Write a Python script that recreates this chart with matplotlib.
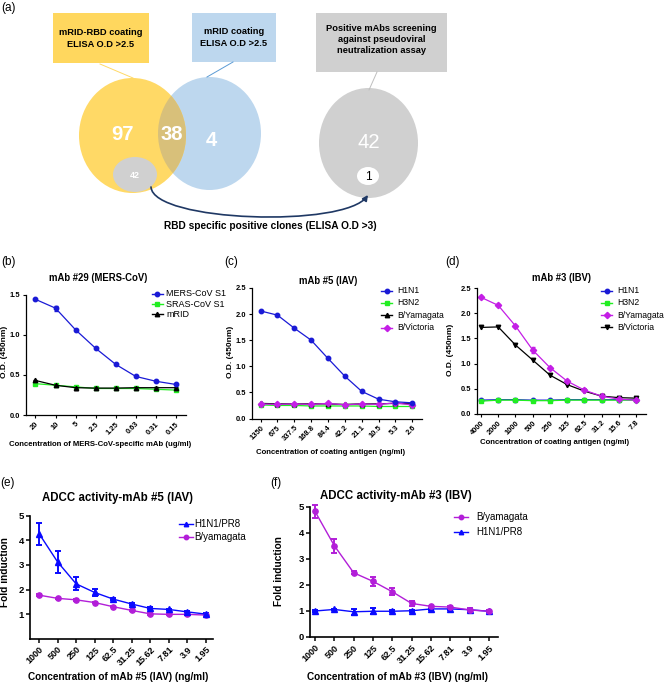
import numpy as np
import matplotlib
matplotlib.use('Agg')
import matplotlib.pyplot as plt
import matplotlib.font_manager as fm
from matplotlib.patches import Rectangle, Ellipse, FancyArrowPatch
from matplotlib.path import Path

# ---- data -------------------------------------------------------------
b_conc = ['20', '10', '5', '2.5', '1.25', '0.63', '0.31', '0.15']
b_mers = [1.44, 1.33, 1.06, 0.83, 0.63, 0.48, 0.42, 0.38]
b_mers_err = [0.01, 0.03, 0.01, 0.01, 0.01, 0.01, 0.01, 0.01]
b_sras = [0.39, 0.37, 0.35, 0.33, 0.33, 0.33, 0.32, 0.31]
b_mrid = [0.43, 0.37, 0.34, 0.335, 0.335, 0.34, 0.34, 0.34]
b_mrid_err = [0.01, 0.01, 0.025, 0.01, 0.01, 0.01, 0.01, 0.01]

c_conc = ['1350', '675', '337.5', '168.8', '84.4', '42.2', '21.1', '10.5', '5.3', '2.6']
c_h1n1 = [2.06, 1.98, 1.73, 1.50, 1.15, 0.81, 0.52, 0.37, 0.32, 0.30]
c_h3n2 = [0.26, 0.25, 0.25, 0.24, 0.24, 0.24, 0.24, 0.23, 0.23, 0.23]
c_byam = [0.29, 0.28, 0.28, 0.28, 0.28, 0.27, 0.28, 0.28, 0.29, 0.28]
c_bvic = [0.28, 0.27, 0.28, 0.27, 0.29, 0.26, 0.28, 0.27, 0.30, 0.26]

d_conc = ['4000', '2000', '1000', '500', '250', '125', '62.5', '31.2', '15.6', '7.8']
d_h1n1 = [0.27, 0.28, 0.28, 0.27, 0.27, 0.28, 0.28, 0.28, 0.28, 0.28]
d_h3n2 = [0.25, 0.27, 0.27, 0.26, 0.26, 0.27, 0.27, 0.27, 0.27, 0.27]
d_byam = [2.32, 2.16, 1.75, 1.27, 0.92, 0.65, 0.47, 0.35, 0.29, 0.27]
d_byam_err = [0.02, 0.02, 0.02, 0.05, 0.02, 0.02, 0.02, 0.02, 0.02, 0.02]
d_bvic = [1.72, 1.73, 1.37, 1.07, 0.77, 0.58, 0.45, 0.35, 0.32, 0.31]

ef_conc = ['1000', '500', '250', '125', '62.5', '31.25', '15.62', '7.81', '3.9', '1.95']
e_h1n1 = [4.27, 3.12, 2.23, 1.88, 1.61, 1.41, 1.23, 1.19, 1.09, 1.00]
e_h1n1_err = [0.45, 0.43, 0.26, 0.13, 0.05, 0.04, 0.04, 0.03, 0.03, 0.03]
e_byam = [1.77, 1.64, 1.58, 1.47, 1.30, 1.15, 1.01, 0.99, 0.99, 0.96]
e_byam_err = [0.03] * 10
f_byam = [4.83, 3.51, 2.47, 2.14, 1.74, 1.29, 1.18, 1.15, 1.04, 0.99]
f_byam_err = [0.25, 0.27, 0.05, 0.17, 0.13, 0.11, 0.03, 0.03, 0.08, 0.03]
f_h1n1 = [1.00, 1.06, 0.97, 0.99, 0.99, 1.01, 1.08, 1.08, 1.05, 0.99]
f_h1n1_err = [0.03, 0.03, 0.11, 0.12, 0.03, 0.03, 0.03, 0.03, 0.03, 0.03]

venn_counts = ['97', '38', '4']
screen_counts = ['42', '1']

# ---- style ------------------------------------------------------------
W, H = 667, 683
names = {f.name for f in fm.fontManager.ttflist}
if 'Liberation Sans Narrow' in names:
    NARROW, NS = 'Liberation Sans Narrow', 1.0
else:
    NARROW, NS = 'Liberation Sans', 0.86
ARIAL = 'Liberation Sans'

BLUE = '#1a1ad6'
GREEN = '#22ee22'
MAGENTA = '#c41ee6'
EBLUE = '#0a0aff'
EMAG = '#b21ed8'

fig = plt.figure(figsize=(W / 100, H / 100), dpi=100)

# overlay in pixel coordinates for panel (a) and all free text
ov = fig.add_axes([0, 0, 1, 1], zorder=5)
ov.set_xlim(0, W)
ov.set_ylim(H, 0)
ov.axis('off')


def px_axes(x0, y0, x1, y1):
    return fig.add_axes([x0 / W, 1 - y1 / H, (x1 - x0) / W, (y1 - y0) / H])


def style_axes(ax, lw, tick_len):
    for s in ['top', 'right']:
        ax.spines[s].set_visible(False)
    for s in ['left', 'bottom']:
        ax.spines[s].set_linewidth(lw)
    ax.tick_params(direction='out', length=tick_len, width=lw * 0.9, pad=1.5)
    ax.patch.set_visible(False)


def legend_rows(x_m, half, x_t, ys, entries, fs, family):
    for y, (label, color, marker) in zip(ys, entries):
        ov.plot([x_m - half, x_m + half], [y, y], color=color, lw=1.0)
        ov.plot([x_m], [y], marker=marker, color=color, ms=3.2)
        ov.text(x_t, y, label, fontsize=fs, family=family, va='center', ha='left')


# ---- panel (a) --------------------------------------------------------
ov.text(1, 8, '(a)', fontsize=8.5, family=ARIAL, va='center')
ov.add_patch(Rectangle((53, 13), 96, 50, fc='#ffd75e', ec='none'))
ov.text(101, 38.5, 'mRID-RBD coating\nELISA O.D >2.5', ha='center', va='center',
        fontsize=7.8 * NS, weight='bold', family=NARROW, linespacing=1.3)
ov.add_patch(Rectangle((192, 13), 84, 49, fc='#bdd7ee', ec='none'))
ov.text(234, 37.5, 'mRID coating\nELISA O.D >2.5', ha='center', va='center',
        fontsize=7.8 * NS, weight='bold', family=NARROW, linespacing=1.3)
ov.add_patch(Rectangle((316, 13), 131, 59, fc='#d0d0d0', ec='none'))
ov.text(381.5, 39.5, 'Positive mAbs screening\nagainst pseudoviral\nneutralization assay',
        ha='center', va='center', fontsize=7.8 * NS, weight='bold', family=NARROW,
        linespacing=1.25)

ov.plot([100, 133], [64, 78], color='#ffd966', lw=0.7)
ov.plot([233, 207], [62, 77], color='#5b9bd5', lw=0.7)
ov.plot([377, 369], [72, 90], color='#bfbfbf', lw=0.7)

blue_c = Ellipse((209.5, 133.5), 103, 113, fc='#bdd7ee', ec='none')
ov.add_patch(blue_c)
ov.add_patch(Ellipse((132.5, 135.5), 107, 115, fc='#ffd966', ec='none'))
overlap = Ellipse((132.5, 135.5), 107, 115, fc='#d8c07a', ec='none')
ov.add_patch(overlap)
overlap.set_clip_path(blue_c)
ov.add_patch(Ellipse((135, 174.5), 44, 35, fc='#d0d0d0', ec='none'))
ov.add_patch(Ellipse((368.5, 143), 99, 110, fc='#d0d0d0', ec='none'))
ov.add_patch(Ellipse((368, 176), 22, 18, fc='white', ec='none'))

for (x, y), s in zip([(123, 134), (171.5, 134), (211, 140)], venn_counts):
    ov.text(x, y, s, color='white', fontsize=17 * NS, weight='bold', family=NARROW,
            ha='center', va='center')
ov.text(135, 175, screen_counts[0], color='white', fontsize=7.5 * NS, weight='bold',
        family=NARROW, ha='center', va='center')
ov.text(369, 143, screen_counts[0], color='white', fontsize=17 * NS, family=NARROW,
        ha='center', va='center')
ov.text(368, 176.5, screen_counts[1], color='black', fontsize=10 * NS, family=NARROW,
        ha='center', va='center')

arc = Path([(151, 187), (153, 222), (345, 228), (368, 195)],
           [Path.MOVETO, Path.CURVE4, Path.CURVE4, Path.CURVE4])
ov.add_patch(FancyArrowPatch(path=arc, arrowstyle='-|>', mutation_scale=8,
                             color='#1f3864', lw=1.2))
ov.text(270, 226, 'RBD specific positive clones (ELISA O.D >3)', ha='center',
        va='center', fontsize=8.5 * NS, weight='bold', family=NARROW)


# ---- panels (b)-(d) ---------------------------------------------------
def od_panel(box, xlim, ymax, yticks, conc, series):
    ax = px_axes(*box)
    style_axes(ax, 0.9, 2.5)
    x = np.arange(len(conc))
    for vals, err, color, marker in series:
        ax.errorbar(x, vals, yerr=err, color=color, marker=marker, ms=3.2, lw=0.9,
                    elinewidth=0.9, capsize=1.5, clip_on=False)
    ax.set_xlim(*xlim)
    ax.set_ylim(0, ymax)
    ax.set_yticks(yticks, labels=['%.1f' % t for t in yticks], fontsize=5.4,
                  weight='bold', family=NARROW)
    ax.set_xticks(x, labels=conc, rotation=45, ha='right', rotation_mode='anchor',
                  fontsize=5.4, weight='bold', family=NARROW)
    return ax


od_panel((26, 294.5, 186, 415), (-0.47, 7.5), 1.5, [0.0, 0.5, 1.0, 1.5], b_conc,
         [(b_sras, None, GREEN, 's'), (b_mrid, b_mrid_err, 'black', '^'),
          (b_mers, b_mers_err, BLUE, 'o')])
od_panel((251.7, 288, 422, 418.5), (-0.53, 9.58), 2.5, [0.0, 0.5, 1.0, 1.5, 2.0, 2.5],
         c_conc,
         [(c_h3n2, None, GREEN, 's'), (c_byam, None, 'black', '^'),
          (c_bvic, None, MAGENTA, 'D'), (c_h1n1, None, BLUE, 'o')])
od_panel((476.7, 288.3, 646, 413.7), (-0.25, 9.58), 2.5, [0.0, 0.5, 1.0, 1.5, 2.0, 2.5],
         d_conc,
         [(d_h1n1, None, BLUE, 'o'), (d_h3n2, None, GREEN, 's'),
          (d_bvic, None, 'black', 'v'), (d_byam, d_byam_err, MAGENTA, 'D')])

for x, y, s in [(1, 262, '(b)'), (224, 262, '(c)'), (445, 262, '(d)'),
                (0, 483, '(e)'), (270, 483, '(f)')]:
    ov.text(x, y, s, fontsize=8.5, family=ARIAL, va='center', ha='left')

for x, y, s in [(98, 278, 'mAb #29 (MERS-CoV)'), (328, 281, 'mAb #5 (IAV)'),
                (562, 278, 'mAb #3 (IBV)')]:
    ov.text(x, y, s, fontsize=8 * NS, weight='bold', family=NARROW, ha='center',
            va='center')
for x, y, s in [(100, 444, 'Concentration of MERS-CoV-specific mAb (ug/ml)'),
                (331, 452, 'Concentration of coating antigen (ng/ml)'),
                (555, 443, 'Concentration of coating antigen (ng/ml)')]:
    ov.text(x, y, s, fontsize=5.6, weight='bold', family=NARROW, ha='center',
            va='center')
for x, y in [(4.5, 352), (230, 352), (450, 350)]:
    ov.text(x, y, 'O.D. (450nm)', fontsize=6.0, weight='bold', family=NARROW,
            rotation=90, ha='center', va='center')

legend_rows(157, 5.5, 166, [294, 304.3, 314.3],
            [('MERS-CoV S1', BLUE, 'o'), ('SRAS-CoV S1', GREEN, 's'),
             ('mRID', 'black', '^')], 6.5, ARIAL)
legend_rows(386.7, 5.5, 397, [290.7, 302.7, 315, 327.7],
            [('H1N1', BLUE, 'o'), ('H3N2', GREEN, 's'), ('B/Yamagata', 'black', '^'),
             ('B/Victoria', MAGENTA, 'D')], 6.2, NARROW)
legend_rows(606.7, 5.5, 617, [290.7, 302.7, 315, 327],
            [('H1N1', BLUE, 'o'), ('H3N2', GREEN, 's'), ('B/Yamagata', MAGENTA, 'D'),
             ('B/Victoria', 'black', 'v')], 6.2, NARROW)


# ---- panels (e)-(f) ---------------------------------------------------
def adcc_panel(box, xlim, yticks, series):
    ax = px_axes(*box)
    style_axes(ax, 1.2, 3)
    x = np.arange(len(ef_conc))
    for vals, err, color, marker in series:
        ax.errorbar(x, vals, yerr=err, color=color, marker=marker, ms=3.8, lw=1.0,
                    elinewidth=1.4, capsize=2.5, capthick=1.4, clip_on=False)
    ax.set_xlim(*xlim)
    ax.set_ylim(0, 5)
    ax.set_yticks(yticks, labels=[str(t) for t in yticks], fontsize=6.8,
                  weight='bold', family=ARIAL)
    ax.set_xticks(x, labels=ef_conc, rotation=45, ha='right', rotation_mode='anchor',
                  fontsize=6.5, weight='bold', family=ARIAL)
    return ax


adcc_panel((30, 515.7, 213, 638.7), (-0.49, 9.39), [1, 2, 3, 4, 5],
           [(e_byam, e_byam_err, EMAG, 'o'), (e_h1n1, e_h1n1_err, EBLUE, '^')])
adcc_panel((310, 507, 498, 637), (-0.26, 9.47), [0, 1, 2, 3, 4, 5],
           [(f_h1n1, f_h1n1_err, EBLUE, '^'), (f_byam, f_byam_err, EMAG, 'o')])

ov.text(118, 498, 'ADCC activity-mAb #5 (IAV)', fontsize=8.3, weight='bold',
        family=ARIAL, ha='center', va='center')
ov.text(396, 496, 'ADCC activity-mAb #3 (IBV)', fontsize=8.3, weight='bold',
        family=ARIAL, ha='center', va='center')
ov.text(118, 677, 'Concentration of mAb #5 (IAV) (ng/ml)', fontsize=7.2,
        weight='bold', family=ARIAL, ha='center', va='center')
ov.text(397.5, 677, 'Concentration of mAb #3 (IBV) (ng/ml)', fontsize=7.2,
        weight='bold', family=ARIAL, ha='center', va='center')
for x, y in [(5, 572), (279, 571)]:
    ov.text(x, y, 'Fold induction', fontsize=7.3, weight='bold', family=ARIAL,
            rotation=90, ha='center', va='center')

legend_rows(185.5, 7, 194, [524, 537.3],
            [('H1N1/PR8', EBLUE, '^'), ('B/yamagata', EMAG, 'o')], 7, ARIAL)
legend_rows(461, 7, 476, [517.3, 532.3],
            [('B/yamagata', EMAG, 'o'), ('H1N1/PR8', EBLUE, '^')], 7, ARIAL)

fig.savefig('out.png', dpi=100)
